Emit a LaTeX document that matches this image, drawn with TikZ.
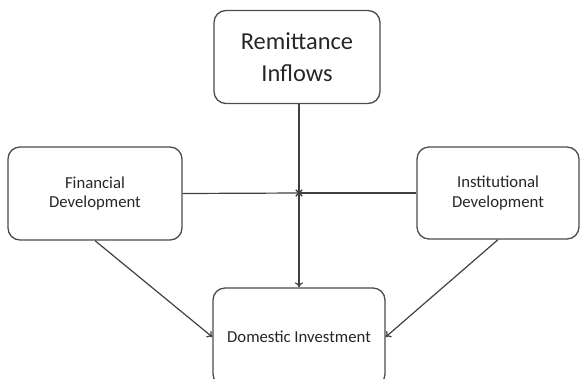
\documentclass[tikz,border=0pt]{standalone}
\usepackage{fontspec}
\setmainfont{Carlito}
\usetikzlibrary{arrows.meta,shapes.misc}

\begin{document}
\begin{tikzpicture}[x=1bp,y=-1bp,>={To[length=5bp,width=8bp]},
  box/.style={rectangle,draw=black!70,line width=1.3bp,rounded corners=12bp,align=center,inner sep=0pt,text=black!85},
  link/.style={draw=black!75,line width=1.2bp}]
\useasboundingbox (0,0) rectangle (581,378);
% boxes
\node[box,minimum width=166bp,minimum height=93bp,font=\fontsize{24.5}{32}\selectfont] (remit) at (297,57) {Remittance\\Inflows};
\node[box,minimum width=174bp,minimum height=93bp,font=\fontsize{16.8}{20}\selectfont] (fin) at (95,193.5) {Financial\\Development};
\node[box,minimum width=162bp,minimum height=92bp,font=\fontsize{16.8}{20}\selectfont] (inst) at (498,193) {Institutional\\Development};
\node[box,minimum width=172bp,minimum height=98bp,font=\fontsize{16.8}{20}\selectfont] (dom) at (299,337) {Domestic Investment};
% junction
\node[cross out,draw=black!80,line width=1.3bp,minimum size=5bp,inner sep=0pt] (jn) at (299,193) {};
% links
\draw[link,->] (remit.south -| jn) -- (dom.north -| jn);
\draw[link] (fin.east) -- (jn.center);
\draw[link] (inst.west) -- (jn.center);
\draw[link,->] (fin.south) -- (dom.west);
\draw[link,->] (inst.south) -- (dom.east);
\end{tikzpicture}
\end{document}
